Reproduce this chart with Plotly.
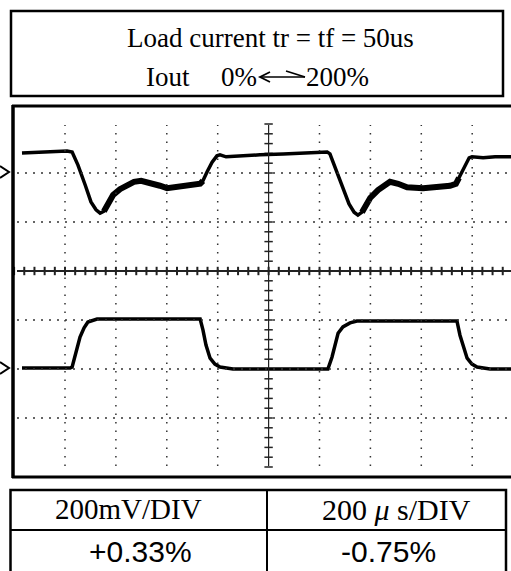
import plotly.graph_objects as go

# ---------------- data (time in us, voltage in divisions) ----------------
vout_t = [31, 121, 208, 228, 251, 279, 302, 322, 338, 353, 373, 389, 416, 444, 471, 499,
          534, 573, 601, 640, 691, 731, 742, 758, 778, 797, 809, 833, 888, 966, 1057, 1163,
          1230, 1241, 1265, 1292, 1316, 1336, 1351, 1367, 1383, 1399, 1430, 1477, 1509, 1544,
          1607, 1674, 1713, 1736, 1748, 1768, 1788, 1799, 1843, 1890, 1953]
vout_v = [2.41, 2.43, 2.45, 2.43, 2.16, 1.76, 1.41, 1.25, 1.18, 1.22, 1.41, 1.55, 1.67, 1.76, 1.82, 1.84,
          1.80, 1.74, 1.69, 1.71, 1.76, 1.78, 1.84, 2.02, 2.22, 2.35, 2.37, 2.33, 2.35, 2.37, 2.39, 2.41,
          2.43, 2.39, 2.06, 1.69, 1.37, 1.20, 1.14, 1.20, 1.37, 1.49, 1.65, 1.82, 1.78, 1.71,
          1.69, 1.71, 1.74, 1.78, 1.90, 2.12, 2.31, 2.33, 2.31, 2.33, 2.33]

iout_t = [31, 220, 228, 243, 259, 275, 290, 326, 534, 731, 742, 754, 770, 789, 809, 860,
          1045, 1233, 1249, 1261, 1273, 1292, 1320, 1347, 1516, 1740, 1752, 1768, 1780, 1799,
          1819, 1870, 1953]
iout_v = [-1.98, -1.98, -1.96, -1.65, -1.35, -1.16, -1.04, -0.98, -0.98, -0.98, -1.20, -1.51, -1.78, -1.90, -1.96, -2.00,
          -2.00, -2.00, -1.76, -1.51, -1.27, -1.14, -1.06, -1.02, -1.02, -1.02, -1.31, -1.61, -1.78, -1.90,
          -1.96, -2.00, -2.00]

x_divs = [1, 2, 3, 4, 6, 7, 8, 9]
y_divs = [2, 1, -1, -2, -3]

title_line1 = "Load current tr = tf = 50us"
title_iout = "Iout"
title_lo = "0%"
title_hi = "200%"
table_head = ["200mV/DIV", "200 <i>μ</i> s/DIV"]
table_vals = ["+0.33%", "-0.75%"]

# ---------------- geometry helpers ----------------
W, H = 511, 571
US_PER_DIV = 200
X0_PX, DIV_PX_X = 14.1, 50.9
Y0_PX, DIV_PX_Y = 271.0, 49.0


def t_of(px):
    return (px - X0_PX) / DIV_PX_X * US_PER_DIV


def v_of(py):
    return (Y0_PX - py) / DIV_PX_Y


def PX(x):
    return x / W


def PY(y):
    return 1 - y / H


fig = go.Figure()

shapes = []
# grid (dotted)
grid_top, grid_bot = v_of(125), v_of(466)
grid_left, grid_right = t_of(17), t_of(W + 5)
for d in x_divs:
    shapes.append(dict(type="line", xref="x", yref="y", x0=d * US_PER_DIV, x1=d * US_PER_DIV,
                       y0=grid_bot, y1=grid_top,
                       line=dict(color="#333", width=1.5, dash="1.5px,7px")))
for d in y_divs:
    shapes.append(dict(type="line", xref="x", yref="y", x0=grid_left, x1=grid_right, y0=d, y1=d,
                       line=dict(color="#333", width=1.5, dash="2px,6px")))
# centre axes
shapes.append(dict(type="line", xref="x", yref="y", x0=grid_left, x1=grid_right, y0=0, y1=0,
                   line=dict(color="#222", width=2)))
shapes.append(dict(type="line", xref="x", yref="y", x0=5 * US_PER_DIV, x1=5 * US_PER_DIV,
                   y0=grid_bot, y1=grid_top, line=dict(color="#222", width=1.2)))

# scope frame
shapes.append(dict(type="line", xref="paper", yref="paper", x0=PX(12), x1=PX(W + 5), y0=PY(106), y1=PY(106),
                   line=dict(color="black", width=3)))
shapes.append(dict(type="line", xref="paper", yref="paper", x0=PX(12), x1=PX(W + 5), y0=PY(477), y1=PY(477),
                   line=dict(color="black", width=3)))
shapes.append(dict(type="line", xref="paper", yref="paper", x0=PX(13), x1=PX(13), y0=PY(105), y1=PY(478),
                   line=dict(color="black", width=3.5)))
# top box
shapes.append(dict(type="rect", xref="paper", yref="paper", x0=PX(11), x1=PX(503), y0=PY(11), y1=PY(96),
                   line=dict(color="black", width=2.5)))
# table
shapes.append(dict(type="rect", xref="paper", yref="paper", x0=PX(10.5), x1=PX(506), y0=PY(490), y1=PY(575),
                   line=dict(color="black", width=2.5)))
shapes.append(dict(type="line", xref="paper", yref="paper", x0=PX(10.5), x1=PX(506), y0=PY(530), y1=PY(530),
                   line=dict(color="black", width=2)))
shapes.append(dict(type="line", xref="paper", yref="paper", x0=PX(267), x1=PX(267), y0=PY(490), y1=PY(575),
                   line=dict(color="black", width=2)))
# channel markers at left
for yy in (172, 368):
    shapes.append(dict(type="path", xref="paper", yref="paper",
                       path=f"M {PX(0)},{PY(yy-6)} L {PX(9)},{PY(yy)} L {PX(0)},{PY(yy+6)}",
                       line=dict(color="black", width=2)))
# arrow in title
shapes.append(dict(type="line", xref="paper", yref="paper", x0=PX(260), x1=PX(305), y0=PY(77), y1=PY(77),
                   line=dict(color="black", width=1.5)))
shapes.append(dict(type="path", xref="paper", yref="paper",
                   path=f"M {PX(270)},{PY(72)} L {PX(260)},{PY(77)} L {PX(270)},{PY(82)}",
                   line=dict(color="black", width=1.8)))
shapes.append(dict(type="line", xref="paper", yref="paper", x0=PX(286), x1=PX(305), y0=PY(71), y1=PY(77),
                   line=dict(color="black", width=1.8)))

# centre axis tick marks
hx = [round(i * US_PER_DIV / 5, 3) for i in range(0, 50)]
fig.add_trace(go.Scatter(x=hx, y=[0] * len(hx), mode="markers",
                         marker=dict(symbol="line-ns", size=6, line=dict(color="#222", width=2)),
                         hoverinfo="skip"))
vy = [round(-4 + i * 0.2, 3) for i in range(0, 36)]
fig.add_trace(go.Scatter(x=[5 * US_PER_DIV] * len(vy), y=vy, mode="markers",
                         marker=dict(symbol="line-ew", size=6, line=dict(color="#222", width=1.5)),
                         hoverinfo="skip"))

# traces
fig.add_trace(go.Scatter(x=vout_t, y=vout_v, mode="lines", line=dict(color="black", width=3.5),
                         hoverinfo="skip"))
noisy1 = [i for i, t in enumerate(vout_t) if 350 <= t <= 742]
noisy2 = [i for i, t in enumerate(vout_t) if 1367 <= t <= 1748]
for idx in (noisy1, noisy2):
    fig.add_trace(go.Scatter(x=[vout_t[i] for i in idx], y=[vout_v[i] for i in idx], mode="lines",
                             line=dict(color="black", width=6), hoverinfo="skip"))
fig.add_trace(go.Scatter(x=iout_t, y=iout_v, mode="lines", line=dict(color="black", width=3.5),
                         hoverinfo="skip"))

serif = "Liberation Serif, Times New Roman, serif"
sans = "Liberation Sans, Arial, sans-serif"
ann = []
ann.append(dict(text=title_line1, x=PX(270), y=PY(38), xref="paper", yref="paper", showarrow=False,
                font=dict(family=serif, size=27, color="black"), xanchor="center", yanchor="middle"))
ann.append(dict(text=title_iout, x=PX(144), y=PY(77), xref="paper", yref="paper", showarrow=False,
                font=dict(family=serif, size=27, color="black"), xanchor="left", yanchor="middle"))
ann.append(dict(text=title_lo, x=PX(259), y=PY(77), xref="paper", yref="paper", showarrow=False,
                font=dict(family=serif, size=27, color="black"), xanchor="right", yanchor="middle"))
ann.append(dict(text=title_hi, x=PX(304), y=PY(77), xref="paper", yref="paper", showarrow=False,
                font=dict(family=serif, size=27, color="black"), xanchor="left", yanchor="middle"))
head_x = [128, 396]
head_size = [29, 30]
val_x = [140, 388]
for c in range(2):
    ann.append(dict(text=table_head[c], x=PX(head_x[c]), y=PY(509), xref="paper", yref="paper",
                    showarrow=False, font=dict(family=serif, size=head_size[c], color="black"),
                    xanchor="center", yanchor="middle"))
    ann.append(dict(text=table_vals[c], x=PX(val_x[c]), y=PY(551), xref="paper", yref="paper",
                    showarrow=False, font=dict(family=sans, size=30, color="black"),
                    xanchor="center", yanchor="middle"))

fig.update_layout(
    width=W, height=H, margin=dict(l=0, r=0, t=0, b=0),
    paper_bgcolor="white", plot_bgcolor="white", showlegend=False,
    xaxis=dict(range=[t_of(0), t_of(W)], visible=False, fixedrange=True),
    yaxis=dict(range=[v_of(H), v_of(0)], visible=False, fixedrange=True),
    shapes=shapes, annotations=ann,
)

fig.write_html("out.html", config={"displayModeBar": False},
               post_script="document.body.style.margin='0';document.body.style.overflow='hidden';")
